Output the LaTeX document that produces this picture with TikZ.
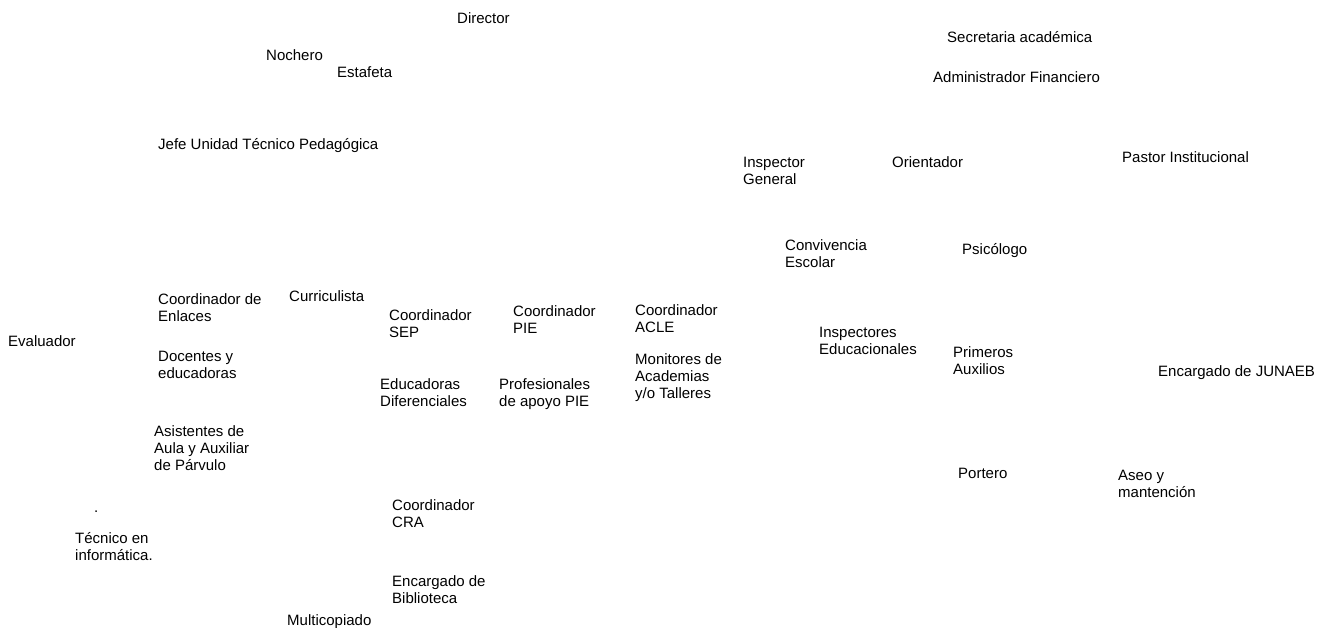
\documentclass[tikz,border=0pt]{standalone}
\usepackage{fontspec}
\setmainfont{Liberation Sans}
\begin{document}
\begin{tikzpicture}[x=1pt,y=-1pt,
  lbl/.style={anchor=base west,inner sep=0pt,align=left,font=\fontsize{15}{17}\selectfont}]
\useasboundingbox (0,0) rectangle (1318,628);
\node[lbl] (director) at (457,23.5) {Director};
\node[lbl] (nochero) at (266,60.5) {Nochero};
\node[lbl] (estafeta) at (337,77.5) {Estafeta};
\node[lbl] (secretaria) at (947,42.5) {Secretaria académica};
\node[lbl] (admin) at (933,82.5) {Administrador Financiero};
\node[lbl] (jefe) at (158,149.5) {Jefe Unidad Técnico Pedagógica};
\node[lbl] (inspgen) at (743,184.5) {Inspector\\General};
\node[lbl] (orientador) at (892,167.5) {Orientador};
\node[lbl] (pastor) at (1122,162.5) {Pastor Institucional};
\node[lbl] (convivencia) at (785,267.5) {Convivencia\\Escolar};
\node[lbl] (psicologo) at (962,254.5) {Psicólogo};
\node[lbl] (enlaces) at (158,321.5) {Coordinador de\\Enlaces};
\node[lbl] (curriculista) at (289,301.5) {Curriculista};
\node[lbl] (sep) at (389,337.5) {Coordinador\\SEP};
\node[lbl] (pie) at (513,333.5) {Coordinador\\PIE};
\node[lbl] (acle) at (635,332.5) {Coordinador\\ACLE};
\node[lbl] (evaluador) at (8,346.5) {Evaluador};
\node[lbl] (docentes) at (158,378.5) {Docentes y\\educadoras};
\node[lbl] (inspedu) at (819,354.5) {Inspectores\\Educacionales};
\node[lbl] (monitores) at (635,398.5) {Monitores de\\Academias\\y/o Talleres};
\node[lbl] (primeros) at (953,374.5) {Primeros\\Auxilios};
\node[lbl] (junaeb) at (1158,376.5) {Encargado de JUNAEB};
\node[lbl] (educdif) at (380,406.5) {Educadoras\\Diferenciales};
\node[lbl] (profpie) at (499,406.5) {Profesionales\\de apoyo PIE};
\node[lbl] (asistentes) at (154,470.5) {Asistentes de\\Aula y Auxiliar\\de Párvulo};
\node[lbl] (portero) at (958,478.5) {Portero};
\node[lbl] (aseo) at (1118,497.5) {Aseo y\\mantención};
\node[lbl] (punto) at (94,512.5) {.};
\node[lbl] (cra) at (392,527.5) {Coordinador\\CRA};
\node[lbl] (tecnico) at (75,560.5) {Técnico en\\informática.};
\node[lbl] (biblioteca) at (392,603.5) {Encargado de\\Biblioteca};
\node[lbl] (multicopiado) at (287,625.5) {Multicopiado};
\end{tikzpicture}
\end{document}
